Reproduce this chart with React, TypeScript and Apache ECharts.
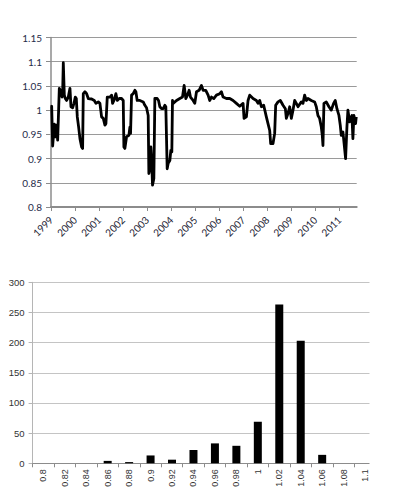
import React, { useEffect, useRef } from "react";
import * as echarts from "echarts";

const lineYears = [
  1999.0, 1999.028, 1999.069, 1999.139, 1999.194, 1999.235, 1999.277, 1999.346, 1999.416, 1999.457,
  1999.485, 1999.512, 1999.554, 1999.596, 1999.651, 1999.72, 1999.789, 1999.831, 1999.9, 1999.956,
  2000.011, 2000.053, 2000.094, 2000.15, 2000.205, 2000.274, 2000.316, 2000.343, 2000.413, 2000.482,
  2000.551, 2000.69, 2000.801, 2000.87, 2000.967, 2001.036, 2001.105, 2001.175, 2001.244, 2001.285,
  2001.341, 2001.452, 2001.521, 2001.562, 2001.618, 2001.701, 2001.756, 2001.839, 2001.936, 2002.006,
  2002.033, 2002.075, 2002.144, 2002.241, 2002.283, 2002.31, 2002.352, 2002.421, 2002.49, 2002.532,
  2002.587, 2002.698, 2002.837, 2002.906, 2002.975, 2003.044, 2003.072, 2003.114, 2003.155, 2003.183,
  2003.224, 2003.28, 2003.321, 2003.418, 2003.474, 2003.529, 2003.598, 2003.668, 2003.737, 2003.778,
  2003.834, 2003.875, 2003.945, 2003.986, 2004.028, 2004.055, 2004.083, 2004.222, 2004.36, 2004.471,
  2004.54, 2004.609, 2004.679, 2004.748, 2004.803, 2004.914, 2004.983, 2005.053, 2005.163, 2005.26,
  2005.33, 2005.44, 2005.537, 2005.607, 2005.676, 2005.773, 2005.884, 2006.022, 2006.091, 2006.161,
  2006.299, 2006.438, 2006.576, 2006.715, 2006.853, 2006.992, 2007.033, 2007.13, 2007.199, 2007.269,
  2007.407, 2007.546, 2007.615, 2007.684, 2007.753, 2007.85, 2007.961, 2008.03, 2008.1, 2008.141,
  2008.238, 2008.307, 2008.349, 2008.446, 2008.543, 2008.654, 2008.751, 2008.792, 2008.861, 2008.931,
  2009.0, 2009.069, 2009.139, 2009.208, 2009.277, 2009.416, 2009.485, 2009.554, 2009.623, 2009.693,
  2009.831, 2009.97, 2010.039, 2010.108, 2010.177, 2010.247, 2010.288, 2010.316, 2010.357, 2010.454,
  2010.565, 2010.662, 2010.759, 2010.828, 2010.898, 2010.981, 2011.036, 2011.078, 2011.147, 2011.216,
  2011.258, 2011.313, 2011.355, 2011.424, 2011.465, 2011.521, 2011.562, 2011.604, 2011.673, 2011.701,
];

const lineValues = [
  1.007, 1.008, 0.926, 0.971, 0.945, 0.969, 0.938, 1.045, 1.038, 1.027,
  1.038, 1.098, 1.031, 1.024, 1.02, 1.027, 1.045, 1.007, 1.005, 1.014,
  1.027, 1.024, 0.986, 0.965, 0.941, 0.924, 0.921, 1.034, 1.038, 1.034,
  1.024, 1.023, 1.02, 1.014, 1.017, 1.014, 0.986, 0.983, 0.969, 0.972,
  1.027, 1.027, 1.031, 1.014, 1.02, 1.034, 1.02, 1.024, 1.024, 1.02,
  0.924, 0.921, 0.945, 0.948, 0.965, 0.952, 1.031, 1.034, 1.041, 1.038,
  1.02, 1.02, 1.017, 1.01, 1.005, 0.989, 0.869, 0.879, 0.924, 0.903,
  0.845, 0.859, 1.024, 1.024, 1.02, 1.007, 1.003, 1.003, 1.01, 1.007,
  0.879, 0.89, 0.896, 0.917, 0.914, 1.02, 1.014, 1.02, 1.024, 1.027,
  1.051, 1.024, 1.031, 1.041, 1.027, 1.02, 1.014, 1.038, 1.041, 1.051,
  1.041, 1.041, 1.031, 1.02, 1.027, 1.024, 1.031, 1.034, 1.038, 1.027,
  1.024, 1.024, 1.02, 1.014, 1.008, 1.014, 0.983, 0.986, 1.02, 1.031,
  1.024, 1.02, 1.014, 1.02, 1.007, 1.01, 0.986, 0.972, 0.958, 0.931,
  0.931, 0.952, 1.01, 1.017, 1.02, 1.01, 1.003, 0.983, 0.993, 1.007,
  0.983, 1.0, 1.02, 1.014, 1.007, 1.017, 1.014, 1.031, 1.02, 1.024,
  1.02, 1.017, 1.007, 0.989, 0.983, 0.965, 0.948, 0.927, 1.014, 1.017,
  1.007, 1.0, 1.014, 1.02, 1.003, 0.989, 0.969, 0.948, 0.955, 0.921,
  0.9, 0.965, 1.0, 0.976, 0.983, 0.989, 0.941, 0.989, 0.972, 0.986,
];

const yearTicks = [1999, 2000, 2001, 2002, 2003, 2004, 2005, 2006, 2007, 2008, 2009, 2010, 2011];

const histCategories = [
  "0.8", "0.82", "0.84", "0.86", "0.88", "0.9", "0.92", "0.94",
  "0.96", "0.98", "1", "1.02", "1.04", "1.06", "1.08", "1.1",
];
const histCounts = [0, 0, 0, 4, 2, 13, 6, 22, 33, 29, 69, 263, 203, 14, 0, 0];

export default function App() {
  const ref = useRef<HTMLDivElement>(null);
  useEffect(() => {
    if (!ref.current) return;
    const chart = echarts.init(ref.current, undefined, { renderer: "svg" });
    const topFont = "Lato, 'Open Sans', sans-serif";
    const botFont = "'Liberation Sans', Arial, sans-serif";
    chart.setOption({
      animation: false,
      backgroundColor: "#ffffff",
      grid: [
        { left: 51, top: 37.5, width: 305.7, height: 169.5 },
        { left: 32.6, top: 282.3, width: 343.2, height: 181 },
      ],
      xAxis: [
        {
          type: "value",
          gridIndex: 0,
          min: 1999,
          max: 2011.72,
          interval: 1,
          splitLine: { show: false },
          axisLine: { show: true, lineStyle: { color: "#8c8c8c", width: 2 } },
          axisTick: {
            show: true,
            customValues: yearTicks,
            length: 4,
            lineStyle: { color: "#8c8c8c", width: 1 },
          },
          axisLabel: {
            rotate: 45,
            margin: 11,
            fontFamily: topFont,
            fontSize: 10,
            color: "#1c2333",
            showMaxLabel: false,
            formatter: (v: number) =>
              Math.abs(v - Math.round(v)) < 1e-6 && yearTicks.indexOf(Math.round(v)) >= 0
                ? String(Math.round(v))
                : "",
          },
        },
        {
          type: "category",
          gridIndex: 1,
          data: histCategories,
          boundaryGap: true,
          axisLine: { show: true, lineStyle: { color: "#8c8c8c", width: 1 } },
          axisTick: { show: true, length: 4, interval: 0, lineStyle: { color: "#8c8c8c" } },
          axisLabel: {
            interval: 0,
            rotate: 90,
            margin: 6,
            fontFamily: botFont,
            fontSize: 9,
            color: "#333333",
          },
        },
      ],
      yAxis: [
        {
          type: "value",
          gridIndex: 0,
          min: 0.8,
          max: 1.15,
          interval: 0.05,
          axisLine: { show: true, lineStyle: { color: "#8c8c8c", width: 1.5 } },
          axisTick: { show: true, length: 5, lineStyle: { color: "#8c8c8c" } },
          splitLine: { show: true, lineStyle: { color: "#9a9a9a", width: 1 } },
          axisLabel: {
            margin: 9,
            fontFamily: topFont,
            fontSize: 10,
            color: "#1f2b4a",
            formatter: (v: number) => String(+v.toFixed(2)),
          },
        },
        {
          type: "value",
          gridIndex: 1,
          min: 0,
          max: 300,
          interval: 50,
          axisLine: { show: true, lineStyle: { color: "#b5b5b5", width: 1 } },
          axisTick: { show: true, length: 4, lineStyle: { color: "#b5b5b5" } },
          splitLine: { show: true, lineStyle: { color: "#c4c4c4", width: 1 } },
          axisLabel: {
            margin: 8,
            fontFamily: botFont,
            fontSize: 9.5,
            color: "#333333",
          },
        },
      ],
      series: [
        {
          type: "line",
          xAxisIndex: 0,
          yAxisIndex: 0,
          data: lineYears.map((y, i) => [y, lineValues[i]]),
          showSymbol: false,
          symbol: "none",
          lineStyle: { color: "#000000", width: 2.8, join: "round" },
        },
        {
          type: "bar",
          xAxisIndex: 1,
          yAxisIndex: 1,
          data: histCounts,
          barWidth: 8,
          itemStyle: { color: "#000000" },
        },
      ],
      graphic: [
        {
          type: "rect",
          shape: { x: 369.5, y: 276, width: 30, height: 192 },
          style: { fill: "#ffffff" },
          z: 100,
        },
      ],
    });
    return () => chart.dispose();
  }, []);
  return (
    <div
      ref={ref}
      style={{ position: "absolute", left: 0, top: 0, width: 394, height: 502 }}
    />
  );
}
